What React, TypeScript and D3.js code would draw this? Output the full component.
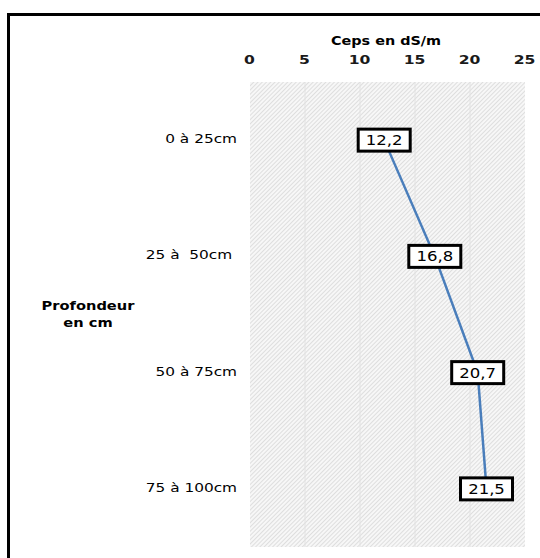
import React from "react";
import * as d3 from "d3";

const categories = ["0 à 25cm", "25 à  50cm ", "50 à 75cm", "75 à 100cm"];
const values = [12.2, 16.8, 20.7, 21.5];
const valueLabels = ["12,2", "16,8", "20,7", "21,5"];
const xTicks = [0, 5, 10, 15, 20, 25];

const W = 540;
const H = 558;
const plot = { left: 250, right: 525, top: 82, bottom: 547 };
const font = "'DejaVu Sans', Verdana, sans-serif";

function Txt(props: {
  x: number;
  y: number;
  sx?: number;
  anchor?: "start" | "middle" | "end";
  size: number;
  bold?: boolean;
  fill?: string;
  children: React.ReactNode;
}) {
  const { x, y, sx = 1.2, anchor = "middle", size, bold, fill = "#000", children } = props;
  return (
    <g transform={`translate(${x},${y}) scale(${sx},1)`}>
      <text
        x={0}
        y={0}
        textAnchor={anchor}
        fontSize={size}
        fontWeight={bold ? "bold" : "normal"}
        fill={fill}
        style={{ whiteSpace: "pre" }}
      >
        {children}
      </text>
    </g>
  );
}

export default function App() {
  const x = d3.scaleLinear().domain([0, 25]).range([plot.left, plot.right]);
  const y = d3
    .scaleBand<string>()
    .domain(categories)
    .range([plot.top, plot.bottom]);
  const cy = (c: string) => (y(c) as number) + y.bandwidth() / 2;
  const pts = categories.map((c, i) => [x(values[i]), cy(c)] as [number, number]);
  const line = d3.line()(pts) as string;

  return (
    <svg
      width={W}
      height={H}
      style={{ position: "absolute", left: 0, top: 0, background: "#fff" }}
      fontFamily={font}
    >
      <defs>
        <pattern id="hatch" width="3" height="3" patternUnits="userSpaceOnUse" patternTransform="rotate(45)">
          <rect width="3" height="3" fill="#f7f7f7" />
          <line x1="0" y1="0" x2="0" y2="3" stroke="#c6c6c6" strokeWidth="1" />
        </pattern>
      </defs>
      <rect x={8.5} y={14.5} width={700} height={700} fill="#fff" stroke="#000" strokeWidth={3} />
      <rect
        x={plot.left}
        y={plot.top}
        width={plot.right - plot.left}
        height={plot.bottom - plot.top}
        fill="url(#hatch)"
      />
      {xTicks.map((t) => (
        <g key={t}>
          {t > 0 && t < 25 && (
            <line x1={x(t)} x2={x(t)} y1={plot.top} y2={plot.bottom} stroke="#e2e2e2" strokeWidth={1} />
          )}
          <Txt x={x(t) - 0.5} y={64} size={12} bold sx={1.3} fill="#1a1a1a">
            {t}
          </Txt>
        </g>
      ))}
      <Txt x={386} y={45} size={12} bold sx={1.2}>
        Ceps en dS/m
      </Txt>
      {categories.map((c) => (
        <Txt key={c} x={237} y={cy(c) + 3} anchor="end" size={13} sx={1.18}>
          {c}
        </Txt>
      ))}
      <Txt x={88} y={310} size={12} bold sx={1.22}>
        Profondeur
      </Txt>
      <Txt x={88} y={327} size={12} bold sx={1.22}>
        en cm
      </Txt>
      <path d={line} fill="none" stroke="#4a7ebb" strokeWidth={2.5} />
      {pts.map(([px, py], i) => (
        <g key={i}>
          <rect x={px - 26} y={py - 11} width={52} height={22} fill="#fff" stroke="#000" strokeWidth={3} />
          <Txt x={px} y={py + 5} size={14} sx={1.18}>
            {valueLabels[i]}
          </Txt>
        </g>
      ))}
    </svg>
  );
}
